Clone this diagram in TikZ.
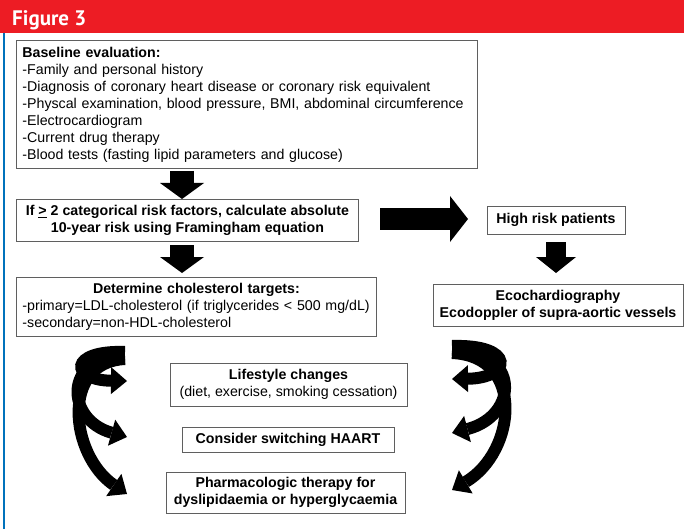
\documentclass[tikz,border=0pt]{standalone}
\usepackage{fontspec}
\setmainfont{Liberation Sans}
\newfontfamily\headfont{PT Sans}
\usetikzlibrary{arrows.meta}
\definecolor{hdred}{RGB}{237,28,36}
\definecolor{sideblue}{RGB}{0,114,188}
\definecolor{boxgray}{RGB}{95,95,95}
\tikzset{
  box/.style={draw=boxgray, line width=0.9pt, inner xsep=6pt, inner ysep=0pt,
    font=\fontsize{14.2}{17}\selectfont, align=center},
  boxb/.style={box, font=\fontsize{14.2}{17}\selectfont\bfseries},
  blkdown/.style={line width=24pt, -{Triangle[length=16pt,width=44pt,line width=0pt]}},
  blkright/.style={line width=22pt, -{Triangle[length=18pt,width=46pt,line width=0pt]}},
  blkdownb/.style={line width=20pt, -{Triangle[length=16pt,width=40pt,line width=0pt]}},
  curv/.style={line width=12pt, -{Triangle[length=16pt,width=27pt,line width=0pt]}},
}
\begin{document}
\begin{tikzpicture}[x=1pt,y=-1pt]
\useasboundingbox (0,0) rectangle (684,529);
% header
\fill[hdred] (0,0) rectangle (684,33);
\node[anchor=base west, text=white, inner sep=0pt, font=\headfont\bfseries\fontsize{21}{21}\selectfont] (title) at (12,26) {Figure 3};
\coordinate (bl1) at (4,33);
\coordinate (bl2) at (4,529);
\draw[sideblue, line width=2pt] (bl1) -- (bl2);

% boxes
\node[box, anchor=north west, minimum width=461, minimum height=128, text width=449, align=left] (b1) at (16,40)
 {\textbf{Baseline evaluation:}\\
 -Family and personal history\\
 -Diagnosis of coronary heart disease or coronary risk equivalent\\
 -Physcal examination, blood pressure, BMI, abdominal circumference\\
 -Electrocardiogram\\
 -Current drug therapy\\
 -Blood tests (fasting lipid parameters and glucose)};

\node[boxb, anchor=north west, minimum width=342, minimum height=42] (b2) at (16,199)
 {If \underline{>} 2 categorical risk factors, calculate absolute\\10-year risk using Framingham equation};

\node[box, anchor=north west, minimum width=360, minimum height=59, text width=348, align=left] (b3) at (16,277)
 {\makebox[\linewidth]{\textbf{Determine cholesterol targets:}}\\
 -primary=LDL-cholesterol (if triglycerides {<} 500 mg/dL)\\
 -secondary=non-HDL-cholesterol};

\node[boxb, minimum width=138, minimum height=28] (hr) at (556,220) {High risk patients};

\node[boxb, minimum width=250, minimum height=42] (echo) at (558,305)
 {Ecochardiography\\Ecodoppler of supra-aortic vessels};

\node[box, minimum width=237, minimum height=43] (ls) at (288.5,384.5)
 {\textbf{Lifestyle changes}\\(diet, exercise, smoking cessation)};

\node[boxb, minimum width=212, minimum height=25] (ha) at (288,439.5) {Consider switching HAART};

\node[boxb, minimum width=239, minimum height=41] (ph) at (285.5,492.5)
 {Pharmacologic therapy for\\dyslipidaemia or hyperglycaemia};

% block arrows
\coordinate (a1s) at (182,171);
\coordinate (a1e) at (182,199);
\draw[blkdown] (a1s) -- (a1e);
\coordinate (a2s) at (182,245);
\coordinate (a2e) at (182,273);
\draw[blkdown] (a2s) -- (a2e);
\coordinate (a3s) at (380,219);
\coordinate (a3e) at (468,219);
\draw[blkright] (a3s) -- (a3e);
\coordinate (a4s) at (556,242);
\coordinate (a4e) at (556,273);
\draw[blkdownb] (a4s) -- (a4e);

% left curved arrows
\coordinate (lst1) at (125,352);
\coordinate (lst2) at (125,356);
\coordinate (lst3) at (125,359);
\coordinate (lt1) at (127,381);
\coordinate (lt2) at (127,437);
\coordinate (lt3) at (127,494);
\draw[curv] (lst1) .. controls (68,350) and (70,380) .. (lt1);
\draw[curv] (lst2) .. controls (62,356) and (66,420) .. (lt2);
\draw[curv] (lst3) .. controls (60,362) and (70,455) .. (lt3);

% right curved arrows
\coordinate (rst1) at (452,346);
\coordinate (rst2) at (452,350);
\coordinate (rst3) at (452,353);
\coordinate (rt1) at (452,379);
\coordinate (rt2) at (452,433);
\coordinate (rt3) at (452,490);
\draw[curv] (rst1) .. controls (516,344) and (512,378) .. (rt1);
\draw[curv] (rst2) .. controls (522,350) and (518,416) .. (rt2);
\draw[curv] (rst3) .. controls (526,356) and (516,452) .. (rt3);
\end{tikzpicture}
\end{document}
